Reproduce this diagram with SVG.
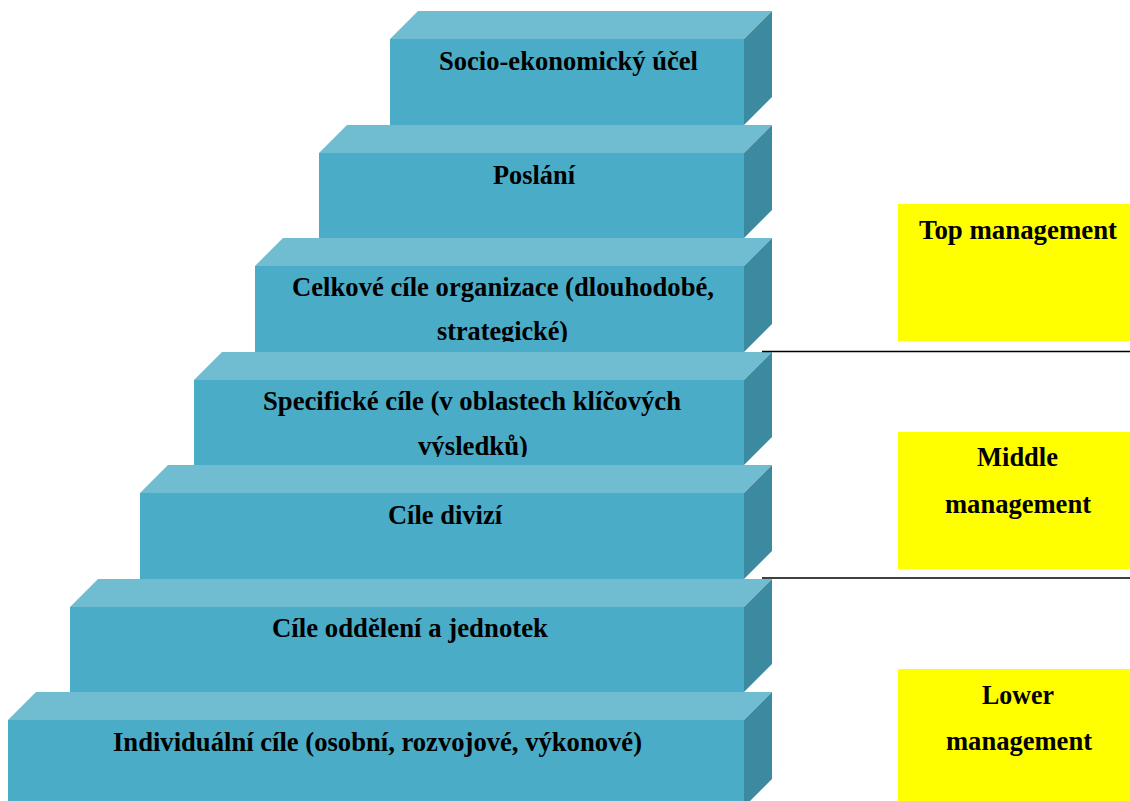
<svg xmlns="http://www.w3.org/2000/svg" width="1130" height="801" viewBox="0 0 1130 801">
  <style>
    .top { fill: #70bcd0; }
    .front { fill: #4aacc6; }
    .side { fill: #3c8aa0; }
    .lbl { font-family: "Liberation Serif", "Times New Roman", serif; font-weight: bold; font-size: 28px; fill: #000; }
    .level { fill: #ffff00; }
    .sep { stroke: #000; stroke-width: 1.6; }
  </style>
  <defs>
    <clipPath id="clip-celkove"><rect x="255" y="267" width="489" height="75"/></clipPath>
    <clipPath id="clip-specificke"><rect x="194" y="380" width="550" height="77"/></clipPath>
  </defs>
  <rect width="1130" height="801" fill="#fff"/>

  <!-- staircase, drawn from the top step downwards -->
  <g id="step-ucel">
    <polygon class="top" points="390,39 418,11 772,11 744,39"/>
    <rect class="front" x="390" y="39" width="354" height="86"/>
    <polygon class="side" points="744,39 772,11 772,97 744,125"/>
    <text class="lbl" x="439" y="70" textLength="259" lengthAdjust="spacingAndGlyphs">Socio-ekonomický účel</text>
  </g>

  <g id="step-poslani">
    <polygon class="top" points="319,153 347,125 772,125 744,153"/>
    <rect class="front" x="319" y="153" width="425" height="85"/>
    <polygon class="side" points="744,153 772,125 772,210 744,238"/>
    <text class="lbl" x="493" y="184" textLength="82" lengthAdjust="spacingAndGlyphs">Poslání</text>
  </g>

  <g id="step-celkove">
    <polygon class="top" points="255,266 283,238 772,238 744,266"/>
    <rect class="front" x="255" y="266" width="489" height="86"/>
    <polygon class="side" points="744,266 772,238 772,324 744,352"/>
    <g clip-path="url(#clip-celkove)">
      <text class="lbl" x="292" y="296" textLength="422" lengthAdjust="spacingAndGlyphs">Celkové cíle organizace (dlouhodobé,</text>
      <text class="lbl" x="437" y="340" textLength="131" lengthAdjust="spacingAndGlyphs">strategické)</text>
    </g>
  </g>

  <g id="step-specificke">
    <polygon class="top" points="194,380 222,352 772,352 744,380"/>
    <rect class="front" x="194" y="380" width="550" height="85"/>
    <polygon class="side" points="744,380 772,352 772,437 744,465"/>
    <g clip-path="url(#clip-specificke)">
      <text class="lbl" x="263" y="410" textLength="418" lengthAdjust="spacingAndGlyphs">Specifické cíle (v oblastech klíčových</text>
      <text class="lbl" x="418" y="455" textLength="110" lengthAdjust="spacingAndGlyphs">výsledků)</text>
    </g>
  </g>

  <g id="step-divize">
    <polygon class="top" points="140,493 168,465 772,465 744,493"/>
    <rect class="front" x="140" y="493" width="604" height="86"/>
    <polygon class="side" points="744,493 772,465 772,551 744,579"/>
    <text class="lbl" x="388" y="524" textLength="114" lengthAdjust="spacingAndGlyphs">Cíle divizí</text>
  </g>

  <g id="step-oddeleni">
    <polygon class="top" points="70,607 98,579 772,579 744,607"/>
    <rect class="front" x="70" y="607" width="674" height="85"/>
    <polygon class="side" points="744,607 772,579 772,664 744,692"/>
    <text class="lbl" x="272" y="637" textLength="276" lengthAdjust="spacingAndGlyphs">Cíle oddělení a jednotek</text>
  </g>

  <g id="step-individualni">
    <polygon class="top" points="8,720 36,692 772,692 744,720"/>
    <rect class="front" x="8" y="720" width="736" height="87"/>
    <polygon class="side" points="744,720 772,692 772,779 744,807"/>
    <text class="lbl" x="113" y="751" textLength="529" lengthAdjust="spacingAndGlyphs">Individuální cíle (osobní, rozvojové, výkonové)</text>
  </g>

  <!-- management level boundaries -->
  <g id="separators">
    <line class="sep" x1="762" y1="351.5" x2="1130" y2="351.5"/>
    <line class="sep" x1="762" y1="578" x2="1130" y2="578"/>
  </g>

  <g id="level-top">
    <rect class="level" x="898" y="204" width="232" height="137"/>
    <text class="lbl" x="919" y="239" textLength="198" lengthAdjust="spacingAndGlyphs">Top management</text>
  </g>

  <g id="level-middle">
    <rect class="level" x="898" y="432" width="232" height="137"/>
    <text class="lbl" x="977" y="466" textLength="81" lengthAdjust="spacingAndGlyphs">Middle</text>
    <text class="lbl" x="945" y="513" textLength="146" lengthAdjust="spacingAndGlyphs">management</text>
  </g>

  <g id="level-lower">
    <rect class="level" x="898" y="669" width="232" height="132"/>
    <text class="lbl" x="982" y="704" textLength="72" lengthAdjust="spacingAndGlyphs">Lower</text>
    <text class="lbl" x="946" y="750" textLength="146" lengthAdjust="spacingAndGlyphs">management</text>
  </g>
</svg>
